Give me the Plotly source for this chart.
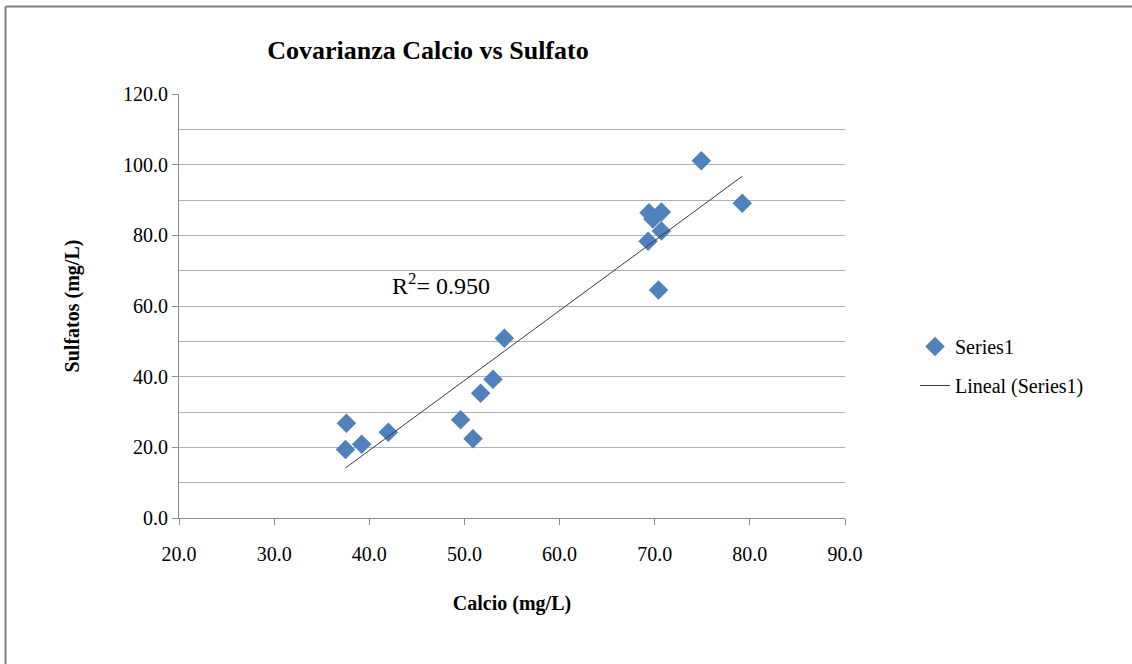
import numpy as np
import plotly.graph_objects as go

# Calcium vs sulfate concentrations (mg/L)
calcio = [37.6, 37.5, 39.2, 42.0, 49.6, 50.9, 51.7, 53.0, 54.2,
          69.3, 69.4, 69.8, 70.7, 70.7, 70.4, 74.9, 79.2]
sulfatos = [26.8, 19.4, 20.9, 24.3, 27.8, 22.4, 35.3, 39.3, 50.9,
            78.3, 86.4, 84.6, 86.6, 81.2, 64.5, 101.1, 89.1]
r2_label = "0.950"
x_ticks = [20, 30, 40, 50, 60, 70, 80, 90]
y_ticks = [0, 20, 40, 60, 80, 100, 120]

# Linear trend fitted by least squares, drawn between min and max calcium
slope, intercept = np.polyfit(calcio, sulfatos, 1)
trend_x = [min(calcio), max(calcio)]
trend_y = [slope * v + intercept for v in trend_x]

W, H = 1132, 664
L, R, T, B = 179, W - 845, 94, H - 518
pw, ph = W - L - R, H - T - B

SERIF = "Liberation Serif, Times New Roman, serif"
AXIS_GRAY = "#8c8c8c"
GRID_GRAY = "#b0b0b0"

fig = go.Figure()
fig.add_trace(go.Scatter(
    x=calcio, y=sulfatos, mode="markers", name="Series1",
    legendgroup="a",
    marker=dict(symbol="diamond", size=15, color="#4f81bd",
                line=dict(width=0)),
))
fig.add_trace(go.Scatter(
    x=trend_x, y=trend_y, mode="lines", name="Lineal (Series1)",
    legendgroup="b",
    line=dict(color="#3a3a3a", width=1),
))

fig.add_annotation(
    x=42.2, y=66.2, xref="x", yref="y", xanchor="left", yanchor="middle",
    text="R<sup>2</sup>= " + r2_label, showarrow=False,
    font=dict(family=SERIF, size=24, color="#000000"),
)

# Outer frame of the chart object (top and left edges)
def px_x(p):
    return (p - L) / pw

def px_y(p):
    return (H - B - p) / ph

frame = dict(color="#7f7f7f", width=2)
fig.add_shape(type="line", xref="paper", yref="paper",
              x0=px_x(5.5), x1=px_x(W + 2), y0=px_y(6.5), y1=px_y(6.5),
              line=frame, layer="above")
fig.add_shape(type="line", xref="paper", yref="paper",
              x0=px_x(5.5), x1=px_x(5.5), y0=px_y(6.5), y1=px_y(H + 2),
              line=frame, layer="above")

fig.update_layout(
    width=W, height=H,
    margin=dict(l=L, r=R, t=T, b=B),
    paper_bgcolor="white", plot_bgcolor="white",
    font=dict(family=SERIF, size=20, color="#000000"),
    title=dict(
        text="<b>Covarianza Calcio vs Sulfato</b>",
        x=px_x(428) * pw / W + L / W, xanchor="center",
        y=1 - 50 / H, yanchor="middle",
        font=dict(family=SERIF, size=26, color="#000000"),
    ),
    showlegend=True,
    legend=dict(
        x=px_x(915), y=px_y(327), xanchor="left", yanchor="top",
        font=dict(family=SERIF, size=20, color="#000000"),
        tracegroupgap=10, bgcolor="rgba(0,0,0,0)",
    ),
    xaxis=dict(
        range=[20, 90], tickvals=x_ticks, tickformat=".1f",
        showgrid=False, zeroline=False,
        showline=True, linecolor=AXIS_GRAY, linewidth=1,
        ticks="outside", ticklen=6, tickcolor=AXIS_GRAY,
        ticklabelstandoff=12,
        tickfont=dict(family=SERIF, size=20),
        title=dict(text="<b>Calcio (mg/L)</b>", standoff=31,
                   font=dict(family=SERIF, size=20)),
    ),
    yaxis=dict(
        range=[0, 120], tickvals=y_ticks, tickformat=".1f",
        showgrid=True, gridcolor=GRID_GRAY, gridwidth=1,
        zeroline=False,
        showline=True, linecolor=AXIS_GRAY, linewidth=1,
        ticks="outside", ticklen=6, tickcolor=AXIS_GRAY,
        tickfont=dict(family=SERIF, size=20),
        minor=dict(dtick=10, showgrid=True, gridcolor=GRID_GRAY,
                   gridwidth=1, ticks=""),
        title=dict(text="<b>Sulfatos (mg/L)</b>", standoff=38,
                   font=dict(family=SERIF, size=20)),
    ),
)

fig.write_html("out.html")
